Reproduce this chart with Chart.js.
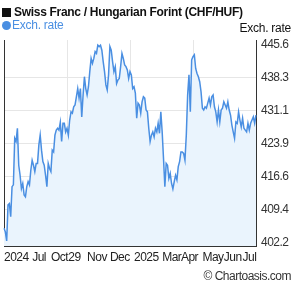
<!DOCTYPE html>
<html>
<head>
<meta charset="utf-8">
<script src="https://cdn.jsdelivr.net/npm/chart.js@4.4.1/dist/chart.umd.min.js"></script>
<style>
  html, body { margin: 0; padding: 0; background: #fff; }
  #wrap { position: relative; width: 295px; height: 288px; overflow: hidden; font-family: "Liberation Sans", Arial, sans-serif; }
  #chart { position: absolute; left: 0; top: 0; }
  .txt { position: absolute; font-size: 12px; line-height: 14px; white-space: nowrap; }
  #title { left: 2px; top: 5px; font-weight: bold; color: #111; letter-spacing: -0.3px; }
  #title .sq { display: inline-block; width: 9px; height: 9px; background: #111; margin-right: 3px; vertical-align: -1px; }
  #legend { left: 2px; top: 18px; color: #4a8fe2; letter-spacing: -0.25px; }
  #legend .dot { display: inline-block; width: 9px; height: 9px; border-radius: 50%; background: #4a8fe2; margin-right: 1px; vertical-align: -1px; }
  #ytitle { right: 4px; top: 21px; color: #111; letter-spacing: -0.25px; }
  #credit { right: 4px; top: 269px; color: #333; letter-spacing: -0.5px; }
</style>
</head>
<body>
<div id="wrap">
  <canvas id="chart" width="295" height="288"></canvas>
  <div class="txt" id="title"><span class="sq"></span>Swiss Franc / Hungarian Forint (CHF/HUF)</div>
  <div class="txt" id="legend"><span class="dot"></span>Exch. rate</div>
  <div class="txt" id="ytitle">Exch. rate</div>
  <div class="txt" id="credit">© Chartoasis.com</div>
</div>
<script>
// CHF/HUF exchange rate, roughly one reading per trading day or two, Jul 2024 - Jul 2025
const rates = [
  405.3, 404.5, 402.5, 410.4, 410.7, 407.8, 414.4, 414.8, 425.0, 424.3,
  427.2, 419.1, 416.9, 414.0, 415.1, 412.6, 412.2, 414.4, 415.5, 414.8,
  418.0, 420.2, 419.1, 417.7, 419.5, 419.5, 423.5, 425.7, 422.4, 419.9,
  419.1, 416.9, 414.4, 419.5, 418.4, 417.7, 422.4, 422.0, 425.7, 426.8,
  427.2, 426.8, 428.5, 424.3, 428.3, 428.3, 426.4,
  427.2, 425.7, 429.0, 430.8, 430.5, 431.9, 432.3, 434.1, 435.9, 433.8,
  435.9, 429.7, 434.5, 438.5, 435.9, 434.5, 436.3, 439.6, 442.5, 441.4,
  442.5, 444.0, 443.6, 445.4, 445.1, 445.4, 444.3, 441.8, 439.6, 436.7,
  435.6, 438.9, 445.1, 444.3, 441.8, 439.6, 440.7, 437.0, 437.8, 438.1,
  440.7, 443.6, 442.5, 441.1,
  440.7, 440.0, 438.1, 439.6, 438.9, 435.9, 436.3, 434.9, 429.4, 432.7,
  432.3, 430.5, 433.0, 434.1, 433.8, 431.2, 430.8, 427.2, 424.3, 425.7,
  426.4, 425.3, 427.2, 426.4, 428.3, 426.1, 430.8, 426.4, 420.6, 414.4,
  419.5, 419.1, 416.2, 417.3, 415.1, 413.9, 415.5, 416.9, 415.9, 418.8,
  419.9, 422.0, 422.0, 421.7, 420.2,
  425.7, 434.5, 438.9, 430.8, 442.2, 442.9, 443.3, 440.3, 439.2, 438.5,
  437.4, 435.2, 431.6, 431.2, 431.9, 431.6, 432.7, 433.8, 432.3, 434.1,
  434.5, 431.9, 430.8, 428.6, 431.2, 428.6, 431.2, 431.6, 433.0, 432.3,
  431.6, 433.0, 431.2, 430.1, 427.9, 426.4, 425.0, 428.6, 428.3, 430.8,
  429.0, 427.5, 429.4, 427.2, 426.8, 426.4, 428.3, 426.8, 428.3, 429.0,
  429.7, 428.3, 430.1
];
const categories = rates.map((_, i) => String(i));

// x tick labels and the category they start at
const xTickText = ['2024', 'Jul', 'Oct', '29', 'Nov', 'Dec', '2025', 'Mar', 'Apr', 'May', 'Jun', 'Jul'];
const xTickAt   = [0, 21, 35, 48, 62, 79, 97, 118, 132, 148, 164, 178];
const xGridAt   = [47, 94, 141];

const yTicks = [402.2, 409.4, 416.6, 423.9, 431.1, 438.3, 445.6];
const yMin = 401.4, yMax = 446.54;

const lineColor = '#4a8fe2';
const fillColor = '#eaf4fd';
const gridColor = '#e6e6e6';
const axisColor = '#333';

Chart.defaults.font.family = '"Liberation Sans", Arial, sans-serif';
Chart.defaults.font.size = 12;

// the reference's axis text is set a little tighter than plain Arial
const tightText = {
  id: 'tightText',
  beforeDraw(chart) { chart.ctx.letterSpacing = '-0.5px'; }
};

const ctx = document.getElementById('chart').getContext('2d');
ctx.letterSpacing = '-0.5px';

new Chart(ctx, {
  type: 'line',
  data: {
    labels: categories,
    datasets: [{
      data: rates,
      borderColor: lineColor,
      backgroundColor: fillColor,
      fill: 'start',
      borderWidth: 1.5,
      pointRadius: 0,
      tension: 0
    }]
  },
  options: {
    responsive: false,
    animation: false,
    layout: { padding: { top: 40, left: 0, right: 0, bottom: 0 } },
    plugins: { legend: { display: false }, tooltip: { enabled: false } },
    scales: {
      x: {
        type: 'category',
        offset: false,
        grid: {
          drawTicks: false,
          color: c => xGridAt.includes(c.index) ? gridColor : 'rgba(0,0,0,0)'
        },
        border: { color: axisColor },
        ticks: {
          autoSkip: false, maxRotation: 0, minRotation: 0,
          align: 'start', padding: 4, color: '#222',
          callback: (v, i) => {
            const k = xTickAt.indexOf(i);
            return k < 0 ? '' : xTickText[k];
          }
        },
        afterFit: s => { s.height = 42; }
      },
      y: {
        position: 'right',
        min: yMin, max: yMax,
        afterBuildTicks: s => { s.ticks = yTicks.map(v => ({ value: v })); },
        grid: {
          drawTicks: false,
          color: c => (c.tick && c.tick.value === yTicks[yTicks.length - 1]) ? 'rgba(0,0,0,0)' : gridColor
        },
        border: { color: axisColor },
        ticks: { padding: 5, color: '#333', callback: v => v.toFixed(1) },
        afterFit: s => { s.width = 39; }
      },
      yL: {
        type: 'linear',
        position: 'left',
        grid: { display: false },
        ticks: { display: false },
        border: { color: axisColor },
        afterFit: s => { s.width = 1; }
      }
    }
  },
  plugins: [tightText]
});
</script>
</body>
</html>
